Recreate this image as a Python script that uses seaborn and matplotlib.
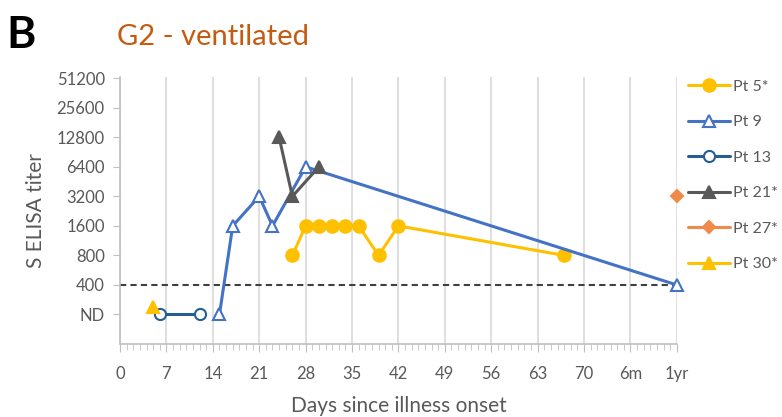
import pandas as pd
import matplotlib
matplotlib.use("Agg")
import matplotlib.pyplot as plt
import seaborn as sns
from matplotlib.ticker import MultipleLocator

# titer levels: ND=0, 400=1, 800=2, ... 51200=8
titer_labels = ["ND", "400", "800", "1600", "3200", "6400", "12800", "25600", "51200"]
day_ticks = [0, 7, 14, 21, 28, 35, 42, 49, 56, 63, 70, 77, 84]
day_labels = ["0", "7", "14", "21", "28", "35", "42", "49", "56", "63", "70", "6m", "1yr"]

pt5_days = [26, 28, 30, 32, 34, 36, 39, 42, 67]
pt5_level = [2, 3, 3, 3, 3, 3, 2, 3, 2]
pt9_days = [15, 17, 21, 23, 28, 84]
pt9_level = [0, 3, 4, 3, 5, 1]
pt13_days = [6, 12]
pt13_level = [0, 0]
pt21_days = [24, 26, 30]
pt21_level = [6, 4, 5]
pt27_days = [84]
pt27_level = [4]
pt30_days = [5]
pt30_level = [0.27]

series = [
    ("Pt 5*", pt5_days, pt5_level, "#FFC000", "o", True, 9),
    ("Pt 9", pt9_days, pt9_level, "#4472C4", "^", False, 8),
    ("Pt 13", pt13_days, pt13_level, "#255E91", "o", False, 8),
    ("Pt 21*", pt21_days, pt21_level, "#595959", "^", True, 9),
    ("Pt 27*", pt27_days, pt27_level, "#F08A4B", "D", True, 6),
    ("Pt 30*", pt30_days, pt30_level, "#FFC000", "^", True, 8),
]

sns.set_style("white")
plt.rcParams["font.family"] = ["Lato", "DejaVu Sans"]
text_col = "#595959"

fig = plt.figure(figsize=(7.82, 4.17), dpi=100)
ax = fig.add_axes([0.1535, 0.175, 0.712, 0.641])

for name, days, lev, col, mk, filled, ms in series:
    df = pd.DataFrame({"day": days, "level": lev})
    sns.lineplot(data=df, x="day", y="level", ax=ax, color=col, marker=mk,
                 markersize=ms, linewidth=2.2, label=name,
                 markerfacecolor=col if filled else "white",
                 markeredgecolor=col, markeredgewidth=1.5, zorder=3,
                 clip_on=False)

ax.axhline(1, color="#404040", linestyle=(0, (3, 2)), linewidth=1.5, zorder=2)

ax.set_xlim(0, 84)
ax.set_ylim(-1, 8.05)
ax.set_xticks(day_ticks)
ax.set_xticklabels(day_labels)
ax.xaxis.set_minor_locator(MultipleLocator(1))
ax.set_yticks(range(len(titer_labels)))
ax.set_yticklabels(titer_labels)
ax.grid(axis="x", color="#D9D9D9", linewidth=1.2)
ax.grid(axis="y", visible=False)
for s in ["top", "right"]:
    ax.spines[s].set_visible(False)
for s in ["left", "bottom"]:
    ax.spines[s].set_color("#BFBFBF")
    ax.spines[s].set_linewidth(1.2)
ax.tick_params(axis="x", which="major", bottom=True, length=6, color="#BFBFBF",
               labelsize=12, labelcolor=text_col, pad=10)
ax.tick_params(axis="x", which="minor", bottom=True, length=4, color="#BFBFBF")
ax.tick_params(axis="y", left=True, length=5, color="#BFBFBF",
               labelsize=12, labelcolor=text_col, pad=6)

ax.set_xlabel("Days since illness onset", fontsize=15, color=text_col, labelpad=10)
ax.set_ylabel("S ELISA titer", fontsize=15, color=text_col, labelpad=8)

leg = ax.legend(loc="upper left", bbox_to_anchor=(1.0, 1.03), frameon=False,
                fontsize=11.5, handlelength=2.6, labelspacing=1.33,
                borderaxespad=0.3, handletextpad=0.2, labelcolor=text_col)

fig.text(0.008, 0.915, "B", fontsize=32, fontweight="bold", color="black", va="center")
fig.text(0.149, 0.912, "G2 - ventilated", fontsize=21, color="#C55A11", va="center")

fig.savefig("out.png", dpi=100)
